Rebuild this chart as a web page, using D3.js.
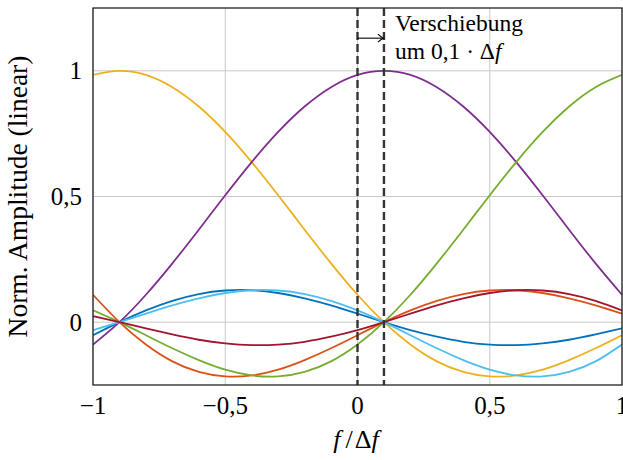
<!DOCTYPE html>
<html><head><meta charset="utf-8">
<script src="https://cdn.jsdelivr.net/npm/d3@7"></script>
<style>body{margin:0;background:#fff}svg{display:block}text{font-family:"Liberation Serif","Times New Roman",serif;fill:#000}</style>
</head><body>
<svg id="c" width="623" height="460"></svg>
<script>
const xValues = [-1,-0.9,-0.8,-0.7,-0.6,-0.5,-0.4,-0.3,-0.2,-0.1,0,0.1,0.2,0.3,0.4,0.5,0.6,0.7,0.8,0.9,1];
const blue      = [-0.052,0,0.047,0.085,0.112,0.126,0.127,0.116,0.095,0.067,0.034,0,-0.032,-0.058,-0.078,-0.089,-0.091,-0.084,-0.070,-0.049,-0.025];
const orange    = [0.109,0,-0.089,-0.156,-0.198,-0.216,-0.212,-0.189,-0.151,-0.104,-0.052,0,0.047,0.085,0.112,0.126,0.127,0.116,0.095,0.067,0.034];
const yellow    = [0.984,1,0.984,0.935,0.858,0.757,0.637,0.505,0.368,0.234,0.109,0,-0.089,-0.156,-0.198,-0.216,-0.212,-0.189,-0.151,-0.104,-0.052];
const purple    = [-0.089,0,0.109,0.234,0.368,0.505,0.637,0.757,0.858,0.935,0.984,1,0.984,0.935,0.858,0.757,0.637,0.505,0.368,0.234,0.109];
const green     = [0.047,0,-0.052,-0.104,-0.151,-0.189,-0.212,-0.216,-0.198,-0.156,-0.089,0,0.109,0.234,0.368,0.505,0.637,0.757,0.858,0.935,0.984];
const lightBlue = [-0.032,0,0.034,0.067,0.095,0.116,0.127,0.126,0.112,0.085,0.047,0,-0.052,-0.104,-0.151,-0.189,-0.212,-0.216,-0.198,-0.156,-0.089];
const darkRed   = [0.024,0,-0.025,-0.049,-0.070,-0.084,-0.091,-0.089,-0.078,-0.058,-0.032,0,0.034,0.067,0.095,0.116,0.127,0.126,0.112,0.085,0.047];
const seriesList = [blue, orange, yellow, purple, green, lightBlue, darkRed];
const seriesColors = ["#0072BD","#D95319","#EDB120","#7E2F8E","#77AC30","#4DBEEE","#A2142F"];
const xTicks = [-1,-0.5,0,0.5,1];
const xTickLabels = ["\u22121","\u22120,5","0","0,5","1"];
const yTicks = [0,0.5,1];
const yTickLabels = ["0","0,5","1"];
const markers = [0, 0.1];

const svg = d3.select("#c");
const L=93, R=622, T=8, B=385;
const x = d3.scaleLinear().domain([-1,1]).range([L,R]);
const y = d3.scaleLinear().domain([-0.25,1.25]).range([B,T]);

// grid
svg.append("g").selectAll("line").data(xTicks).join("line")
  .attr("x1",d=>x(d)).attr("x2",d=>x(d)).attr("y1",T).attr("y2",B)
  .attr("stroke","#c8c8c8").attr("stroke-width",1);
svg.append("g").selectAll("line").data(yTicks).join("line")
  .attr("x1",L).attr("x2",R).attr("y1",d=>y(d)).attr("y2",d=>y(d))
  .attr("stroke","#c8c8c8").attr("stroke-width",1);

// curves
const defs = svg.append("defs");
defs.append("clipPath").attr("id","clip").append("rect").attr("x",L).attr("y",T).attr("width",R-L).attr("height",B-T);
const line = d3.line().x((d,i)=>x(xValues[i])).y(d=>y(d)).curve(d3.curveNatural);
const g = svg.append("g").attr("clip-path","url(#clip)");
seriesList.forEach((s,k)=>{
  g.append("path").attr("d",line(s)).attr("fill","none")
   .attr("stroke",seriesColors[k]).attr("stroke-width",1.8);
});

// dashed markers
svg.append("g").selectAll("line").data(markers).join("line")
  .attr("x1",d=>x(d)).attr("x2",d=>x(d)).attr("y1",T).attr("y2",B)
  .attr("stroke","#333").attr("stroke-width",2.4).attr("stroke-dasharray","8,4");

// frame
svg.append("rect").attr("x",L).attr("y",T).attr("width",R-L).attr("height",B-T)
  .attr("fill","none").attr("stroke","#222").attr("stroke-width",1.3);

// arrow
const ay = y(1.13);
svg.append("line").attr("x1",x(0)).attr("x2",x(0.1)-1).attr("y1",ay).attr("y2",ay).attr("stroke","#000").attr("stroke-width",1.1);
svg.append("path").attr("d",`M${x(0.1)-6},${ay-4} Q${x(0.1)-3},${ay-1} ${x(0.1)-0.5},${ay} Q${x(0.1)-3},${ay+1} ${x(0.1)-6},${ay+4}`)
  .attr("fill","none").attr("stroke","#000").attr("stroke-width",1.1);

// annotation
svg.append("text").attr("x",395).attr("y",31).attr("font-size",23.5).text("Verschiebung");
const t2 = svg.append("text").attr("x",395).attr("y",59).attr("font-size",23.5);
t2.append("tspan").text("um 0,1 \u00B7 \u0394");
t2.append("tspan").attr("font-style","italic").text("f");

// tick labels
svg.append("g").selectAll("text").data(xTicks).join("text")
  .attr("x",d=>x(d)).attr("y",414).attr("text-anchor","middle").attr("font-size",25)
  .text((d,i)=>xTickLabels[i]);
svg.append("g").selectAll("text").data(yTicks).join("text")
  .attr("x",82).attr("y",d=>y(d)+8.5).attr("text-anchor","end").attr("font-size",25)
  .text((d,i)=>yTickLabels[i]);

// axis titles
const xt = svg.append("text").attr("x",356).attr("y",448).attr("text-anchor","middle").attr("font-size",26);
xt.append("tspan").attr("font-style","italic").text("f");
xt.append("tspan").attr("dx",5).text("/");
xt.append("tspan").attr("dx",2).text("\u0394");
xt.append("tspan").attr("font-style","italic").text("f");
svg.append("text").attr("transform",`translate(27,${(T+B)/2}) rotate(-90)`).attr("text-anchor","middle")
  .attr("font-size",27.5).text("Norm. Amplitude (linear)");
</script>
</body></html>
